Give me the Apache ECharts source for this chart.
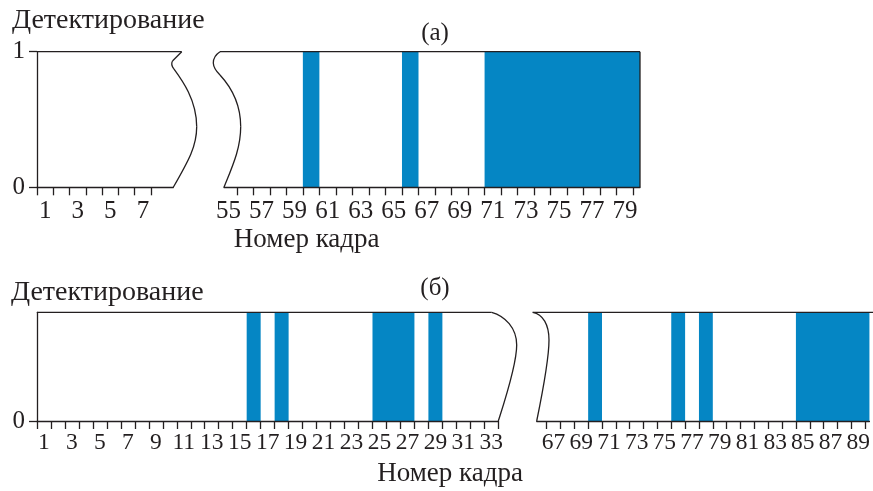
<!DOCTYPE html>
<html><head><meta charset="utf-8">
<script src="https://cdn.jsdelivr.net/npm/echarts@6/dist/echarts.min.js"></script>
<style>html,body{margin:0;padding:0;background:#fff}#c{width:873px;height:491px}</style>
</head><body><div id="c"></div>
<script>
// ---------- data ----------
const topLeftFrames  = [1, 2, 3, 4, 5, 6, 7, 8, 9];
const topLeftDetect  = [0, 0, 0, 0, 0, 0, 0, 0, 0];
const topRightFrames = [55, 56, 57, 58, 59, 60, 61, 62, 63, 64, 65, 66, 67, 68, 69, 70, 71, 72, 73, 74, 75, 76, 77, 78, 79, 80];
const topRightDetect = [0, 0, 0, 0, 0, 1, 0, 0, 0, 0, 0, 1, 0, 0, 0, 0, 1, 1, 1, 1, 1, 1, 1, 1, 1, 1];
const botLeftFrames  = [1, 2, 3, 4, 5, 6, 7, 8, 9, 10, 11, 12, 13, 14, 15, 16, 17, 18, 19, 20, 21, 22, 23, 24, 25, 26, 27, 28, 29, 30, 31, 32, 33];
const botLeftDetect  = [0, 0, 0, 0, 0, 0, 0, 0, 0, 0, 0, 0, 0, 0, 0, 1, 0, 1, 0, 0, 0, 0, 0, 0, 1, 1, 1, 0, 1, 0, 0, 0, 0];
const botRightFrames = [66, 67, 68, 69, 70, 71, 72, 73, 74, 75, 76, 77, 78, 79, 80, 81, 82, 83, 84, 85, 86, 87, 88, 89, 90];
const botRightDetect = [0, 0, 0, 0, 1, 0, 0, 0, 0, 0, 1, 0, 1, 0, 0, 0, 0, 0, 0, 1, 1, 1, 1, 1, 1];

const topLeftTicks   = [0.5, 1.5, 2.5, 3.5, 4.5, 5.5, 6.5, 7.5];
const topLeftLabels  = [1, 3, 5, 7];
const topRightTicks  = [55.5, 56.5, 57.5, 58.5, 59.5, 60.5, 61.5, 62.5, 63.5, 64.5, 65.5, 66.5, 67.5, 68.5, 69.5, 70.5, 71.5, 72.5, 73.5, 74.5, 75.5, 76.5, 77.5, 78.5, 79.5];
const topRightLabels = [55, 57, 59, 61, 63, 65, 67, 69, 71, 73, 75, 77, 79];
const botLeftTicks   = [0.5, 1.5, 2.5, 3.5, 4.5, 5.5, 6.5, 7.5, 8.5, 9.5, 10.5, 11.5, 12.5, 13.5, 14.5, 15.5, 16.5, 17.5, 18.5, 19.5, 20.5, 21.5, 22.5, 23.5, 24.5, 25.5, 26.5, 27.5, 28.5, 29.5, 30.5, 31.5, 32.5, 33.5];
const botLeftLabels  = [1, 3, 5, 7, 9, 11, 13, 15, 17, 19, 21, 23, 25, 27, 29, 31, 33];
const botRightTicks  = [66.5, 67.5, 68.5, 69.5, 70.5, 71.5, 72.5, 73.5, 74.5, 75.5, 76.5, 77.5, 78.5, 79.5, 80.5, 81.5, 82.5, 83.5, 84.5, 85.5, 86.5, 87.5, 88.5, 89.5];
const botRightLabels = [67, 69, 71, 73, 75, 77, 79, 81, 83, 85, 87, 89];
const topYLabels = [0, 1];
const botYLabels = [0];

const yTitle = 'Детектирование';
const xTitle = 'Номер кадра';
const panelA = '(а)';
const panelB = '(б)';

// ---------- style / layout ----------
const INK = '#231f20';
const BLUE = '#0586c4';
const FONT = '"Liberation Serif", "Times New Roman", serif';
const LW = 1.3;

const panels = [
  {left: 37,    right: 173.3, top: 51.7,  bottom: 187.3, min: 0.5,    max: 8.867,  frames: topLeftFrames,  det: topLeftDetect,  ticks: topLeftTicks,  labels: topLeftLabels,  fs: 25, margin: 12},
  {left: 224,   right: 640,   top: 51.7,  bottom: 187.3, min: 54.726, max: 79.908, frames: topRightFrames, det: topRightDetect, ticks: topRightTicks, labels: topRightLabels, fs: 25, margin: 12},
  {left: 37,    right: 498.3, top: 312.3, bottom: 421,   min: 0.5,    max: 33.5,   frames: botLeftFrames,  det: botLeftDetect,  ticks: botLeftTicks,  labels: botLeftLabels,  fs: 23.5, margin: 10},
  {left: 536.7, right: 873,   top: 312.3, bottom: 421,   min: 65.786, max: 89.807, frames: botRightFrames, det: botRightDetect, ticks: botRightTicks, labels: botRightLabels, fs: 23.5, margin: 10}
];

function runs(frames, det) {
  const out = [];
  let s = null;
  for (let i = 0; i < frames.length; i++) {
    if (det[i] && s === null) s = frames[i];
    if ((!det[i] || i === frames.length - 1) && s !== null) {
      const e = det[i] ? frames[i] : frames[i - 1];
      out.push([s, e, 1]);
      s = null;
    }
  }
  return out;
}

function renderRun(params, api) {
  const a = api.coord([api.value(0) - 0.5, api.value(2)]);
  const b = api.coord([api.value(1) + 0.5, 0]);
  const cs = params.coordSys;
  const r = echarts.graphic.clipRectByRect(
    {x: a[0], y: a[1], width: b[0] - a[0], height: b[1] - a[1]},
    {x: cs.x, y: cs.y, width: cs.width, height: cs.height});
  if (!r) return null;
  return {type: 'rect', shape: r, style: {fill: BLUE}};
}

const grids = [], xAxes = [], yAxes = [], series = [];
panels.forEach((p, i) => {
  grids.push({left: p.left, top: p.top, width: p.right - p.left, height: p.bottom - p.top, containLabel: false});
  xAxes.push({
    type: 'value', gridIndex: i, min: p.min, max: p.max, z: 5,
    axisLine: {show: true, lineStyle: {color: INK, width: LW}},
    axisTick: {show: true, customValues: p.ticks, length: 8, lineStyle: {color: INK, width: LW}},
    axisLabel: {show: true, customValues: p.labels, margin: p.margin, color: INK, fontFamily: FONT, fontSize: p.fs},
    splitLine: {show: false}
  });
  const showY = (i === 0 || i === 2);
  const yl = i === 0 ? topYLabels : botYLabels;
  yAxes.push({
    type: 'value', gridIndex: i, min: 0, max: 1, show: showY, z: 5,
    axisLine: {show: true, lineStyle: {color: INK, width: LW}},
    axisTick: {show: true, customValues: yl, length: 8, lineStyle: {color: INK, width: LW}},
    axisLabel: {show: true, customValues: yl, margin: 12, color: INK, fontFamily: FONT, fontSize: 25},
    splitLine: {show: false}
  });
  series.push({
    type: 'custom', xAxisIndex: i, yAxisIndex: i, z: 2,
    renderItem: renderRun, data: runs(p.frames, p.det), silent: true
  });
});

const lineStyle = {stroke: INK, lineWidth: LW, fill: null};
function seg(x1, y1, x2, y2) { return {type: 'line', z: 10, shape: {x1, y1, x2, y2}, style: lineStyle}; }
function curve(pts) {
  if (pts.length === 4) return seg(pts[0], pts[1], pts[2], pts[3]);
  if (pts.length === 6) return {type: 'bezierCurve', z: 10, shape: {x1: pts[0], y1: pts[1], cpx1: pts[2], cpy1: pts[3], x2: pts[4], y2: pts[5]}, style: lineStyle};
  return {type: 'bezierCurve', z: 10, shape: {x1: pts[0], y1: pts[1], cpx1: pts[2], cpy1: pts[3], cpx2: pts[4], cpy2: pts[5], x2: pts[6], y2: pts[7]}, style: lineStyle};
}
function txt(text, x, y, size, align) {
  return {type: 'text', z: 10, style: {text, x, y, fill: INK, font: size + 'px ' + FONT, align: align, verticalAlign: 'middle'}};
}

const graphic = [
  seg(37, 51.7, 181.7, 51.7),
  curve([181.7, 51.7, 172.5, 61]),
  curve([172.5, 61, 170.5, 64.5, 173.8, 68.8]),
  curve([173.8, 68.8, 182, 80, 196.7, 100, 196.7, 126.7]),
  curve([196.7, 126.7, 196.7, 146, 189, 160, 173.3, 187.3]),
  seg(220, 51.7, 640, 51.7),
  curve([220, 51.7, 213.3, 56, 213.3, 63]),
  curve([213.3, 63, 213.5, 68.5, 220, 75]),
  curve([220, 75, 232, 88, 240.7, 105, 240.7, 126.7]),
  curve([240.7, 126.7, 240.7, 148, 233, 165, 224, 187.3]),
  seg(640, 51.7, 640, 187.3),
  seg(37, 312.3, 491.7, 312.3),
  curve([491.7, 312.3, 505, 316, 516.7, 328, 516.7, 345]),
  curve([516.7, 345, 516.7, 365, 505, 400, 498.3, 421]),
  seg(532.7, 312.3, 873, 312.3),
  curve([532.7, 312.3, 543, 314, 549, 325, 549, 340]),
  curve([549, 340, 549, 360, 541, 400, 536.7, 421]),
  txt(yTitle, 12, 20.5, 28, 'left'),
  txt(panelA, 435, 33, 25, 'center'),
  txt(xTitle, 306.7, 239.5, 27, 'center'),
  txt(yTitle, 11, 292.5, 28, 'left'),
  txt(panelB, 435, 288.5, 25, 'center'),
  txt(xTitle, 450, 473.5, 27, 'center')
];

const chart = echarts.init(document.getElementById('c'), null, {renderer: 'canvas'});
chart.setOption({
  animation: false,
  backgroundColor: '#ffffff',
  grid: grids, xAxis: xAxes, yAxis: yAxes, series: series, graphic: graphic
});
</script>
</body></html>
